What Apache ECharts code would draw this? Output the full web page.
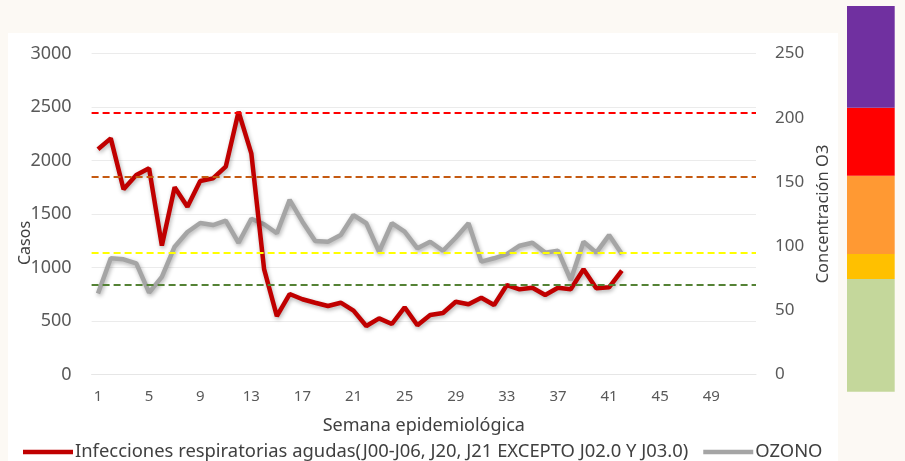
<!DOCTYPE html>
<html>
<head>
<meta charset="utf-8">
<script src="https://cdn.jsdelivr.net/npm/echarts@6/dist/echarts.min.js"></script>
<style>
html, body { margin: 0; padding: 0; background: #fff; }
#main { width: 905px; height: 461px; }
</style>
</head>
<body>
<div id="main"></div>
<script>
var weeks = [];
for (var w = 1; w <= 52; w++) weeks.push(String(w));

// casos semanales (eje izquierdo)
var casos_ira = [2105, 2207, 1731, 1864, 1927, 1205, 1750, 1568, 1808, 1833,
    1942, 2456, 2067, 985, 545, 752, 703, 671, 640, 671,
    597, 453, 525, 472, 628, 460, 556, 575, 680, 656,
    718, 650, 836, 796, 811, 743, 811, 796, 983, 805,
    815, 970];

// ozono (eje derecho)
var ozono = [63, 90.5, 89.7, 86.6, 63.7, 76, 99.5, 111, 118, 116.4,
    119.8, 102.6, 121.3, 117, 110, 136, 119, 104, 103.4, 108.6,
    124.2, 117.8, 95.6, 117.8, 111.2, 98.3, 103.4, 96.4, 106.5, 117.8,
    87.9, 90.5, 93.8, 100.3, 102.6, 94.9, 96.4, 73.6, 103.4, 94.9,
    108.6, 93.8];

// umbrales (eje derecho)
var umbrales = [204, 154, 95, 70];
var umbral_colores = ['#ff0000', '#c55a11', '#ffff00', '#548235'];

// barra de colores a la derecha, de abajo hacia arriba
var bandas = [88, 19.5, 61, 53, 79.5];
var bandas_colores = ['#c4d79b', '#ffc000', '#ff9933', '#ff0000', '#7030a0'];

var nombre_ira = 'Infecciones respiratorias agudas(J00-J06, J20, J21 EXCEPTO J02.0 Y J03.0)';
var font = 'Noto Sans';

var chart = echarts.init(document.getElementById('main'));

var markData = umbrales.map(function (v, i) {
    return { yAxis: v, lineStyle: { color: umbral_colores[i], type: [7, 4], width: 1.8 } };
});

var bandSeries = bandas.map(function (v, i) {
    return {
        type: 'bar',
        name: 'banda' + i,
        xAxisIndex: 1,
        yAxisIndex: 2,
        stack: 'bandas',
        barWidth: '100%',
        silent: true,
        itemStyle: { color: bandas_colores[i] },
        data: [v]
    };
});

var total = bandas.reduce(function (a, b) { return a + b; }, 0);

chart.setOption({
    animation: false,
    backgroundColor: '#fcf9f4',
    textStyle: { fontFamily: font },
    graphic: [{
        type: 'rect', z: -10, silent: true,
        shape: { x: 8, y: 33, width: 830, height: 428 },
        style: { fill: '#ffffff' }
    }],
    grid: [
        { left: 91.6, right: 149, top: 53.5, bottom: 86.5, outerBoundsMode: 'none' },
        { left: 847, right: 10.3, top: 6, bottom: 69.3, outerBoundsMode: 'none' }
    ],
    legend: {
        data: [nombre_ira, 'OZONO'],
        top: 438,
        left: 18,
        icon: 'rect',
        itemWidth: 50,
        itemHeight: 4.5,
        itemGap: 15,
        textStyle: { color: '#404040', fontSize: 18.4, fontFamily: font, padding: [0, 0, 0, -3] }
    },
    xAxis: [
        {
            type: 'category',
            data: weeks,
            name: 'Semana epidemiológica',
            nameLocation: 'middle',
            nameGap: 42,
            nameTextStyle: { color: '#404040', fontSize: 18 },
            axisLine: { lineStyle: { color: '#e6e6e6' } },
            axisTick: { show: false },
            axisLabel: { interval: 3, color: '#595959', fontSize: 15, margin: 15 }
        },
        { type: 'category', gridIndex: 1, data: [''], show: false }
    ],
    yAxis: [
        {
            type: 'value',
            min: 0, max: 3000, interval: 500,
            name: 'Casos',
            nameLocation: 'middle',
            nameGap: 58,
            nameMoveOverlap: false,
            nameTextStyle: { color: '#404040', fontSize: 16, padding: [0, 58, 0, 0] },
            axisLabel: {
                color: '#595959', fontSize: 18, margin: 20,
                formatter: function (v) { return String(v); }
            },
            splitLine: { lineStyle: { color: '#ebebeb', width: 1.2 } }
        },
        {
            type: 'value',
            min: 0, max: 250, interval: 50,
            name: 'Concentración O3',
            nameLocation: 'middle',
            nameGap: 56,
            nameTextStyle: { color: '#404040', fontSize: 16.5 },
            axisLabel: { color: '#595959', fontSize: 17, margin: 19 },
            splitLine: { show: false }
        },
        { type: 'value', gridIndex: 1, min: 0, max: total, show: false }
    ],
    series: [
        {
            type: 'line',
            name: 'OZONO',
            yAxisIndex: 1,
            data: ozono,
            symbol: 'none',
            color: '#a5a5a5',
            lineStyle: {
                width: 4.5, color: '#a5a5a5',
                shadowColor: 'rgba(0,0,0,0.3)', shadowBlur: 4, shadowOffsetX: 1, shadowOffsetY: 2
            },
            markLine: {
                silent: true,
                symbol: 'none',
                label: { show: false },
                data: markData
            },
            z: 2
        },
        {
            type: 'line',
            name: nombre_ira,
            data: casos_ira,
            symbol: 'none',
            color: '#c00000',
            lineStyle: {
                width: 4.5, color: '#c00000',
                shadowColor: 'rgba(0,0,0,0.3)', shadowBlur: 4, shadowOffsetX: 1, shadowOffsetY: 2
            },
            z: 3
        }
    ].concat(bandSeries)
});
</script>
</body>
</html>
